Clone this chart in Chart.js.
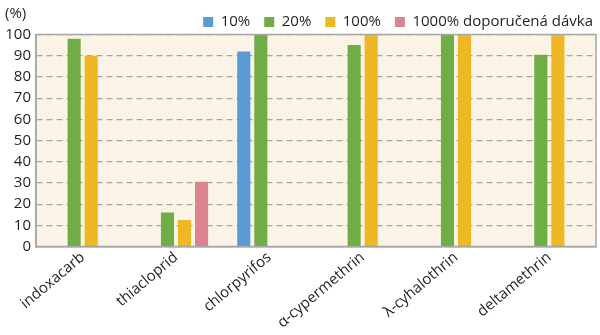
<!DOCTYPE html>
<html>
<head>
<meta charset="utf-8">
<script src="https://cdn.jsdelivr.net/npm/chart.js@4/dist/chart.umd.min.js"></script>
<style>
  html, body { margin: 0; padding: 0; background: #fff; }
  canvas { display: block; }
</style>
</head>
<body>
<canvas id="chart" width="600" height="335"></canvas>
<script>
const substances = ['indoxacarb', 'thiacloprid', 'chlorpyrifos', 'α-cypermethrin', 'λ-cyhalothrin', 'deltamethrin'];
const dose10 = [null, null, 92, null, null, null];
const dose20 = [98, 16, 100, 95, 100, 90.5];
const dose100 = [90, 12.5, null, 100, 100, 100];
const dose1000 = [null, 30.5, null, null, null, null];

const FONT = "'Open Sans', sans-serif";
Chart.defaults.font.family = FONT;
Chart.defaults.color = '#231f20';

// cream plot background, grey frame and the unit label
const plotFrame = {
  id: 'plotFrame',
  afterInit(chart) {
    // legend band is a fixed height above the plot
    const legend = chart.legend;
    const fit = legend.fit;
    legend.fit = function () {
      fit.call(this);
      if (this.isHorizontal()) this.height = 34.5;
    };
  },
  afterLayout(chart) {
    // nudge the legend row out to the right edge
    chart.legend.top = 0.5;
    chart.legend.right = 607;
  },
  beforeDraw(chart) {
    const { ctx, chartArea: a } = chart;
    ctx.save();
    ctx.fillStyle = '#fcf3e7';
    ctx.fillRect(a.left, a.top, a.right - a.left, a.bottom - a.top);
    ctx.restore();
  },
  afterDraw(chart) {
    const { ctx, chartArea: a } = chart;
    ctx.save();
    ctx.strokeStyle = '#a6a6a6';
    ctx.lineWidth = 1.5;
    ctx.strokeRect(a.left, a.top, a.right - a.left, a.bottom - a.top);
    ctx.font = '15px ' + FONT;
    ctx.fillStyle = '#231f20';
    ctx.textBaseline = 'middle';
    ctx.textAlign = 'left';
    ctx.fillText('(%)', 5, 14);
    ctx.restore();
  }
};

const bar = (label, data, color) => ({
  label,
  data,
  backgroundColor: color,
  categoryPercentage: 0.73,
  barPercentage: 0.77
});

new Chart(document.getElementById('chart'), {
  type: 'bar',
  data: {
    labels: substances,
    datasets: [
      bar('10%', dose10, '#5b9bd5'),
      bar('20%', dose20, '#70ad47'),
      bar('100%', dose100, '#edb824'),
      bar('1000% doporučená dávka', dose1000, '#d9848f')
    ]
  },
  options: {
    responsive: false,
    animation: false,
    layout: { padding: { left: 0, right: 4, top: 0, bottom: 0 } },
    plugins: {
      tooltip: { enabled: false },
      legend: {
        position: 'top',
        align: 'end',
        labels: {
          boxWidth: 10,
          boxHeight: 10,
          padding: 14,
          font: { size: 15 },
          color: '#231f20'
        }
      }
    },
    scales: {
      x: {
        afterFit(axis) { axis.height = 88.5; },
        grid: { display: false },
        border: { color: '#a6a6a6', width: 1.5 },
        ticks: {
          minRotation: 40,
          maxRotation: 40,
          autoSkip: false,
          padding: -6,
          font: { size: 15 },
          color: '#231f20'
        }
      },
      y: {
        min: 0,
        max: 100,
        afterFit(axis) { axis.width = 36; },
        grid: { color: '#a9a5a1', lineWidth: 1.2, drawTicks: false },
        border: { color: '#a6a6a6', width: 1.5, dash: [6, 4] },
        ticks: {
          stepSize: 10,
          autoSkip: false,
          padding: 5,
          font: { size: 15 },
          color: '#231f20'
        }
      }
    }
  },
  plugins: [plotFrame]
});
</script>
</body>
</html>
